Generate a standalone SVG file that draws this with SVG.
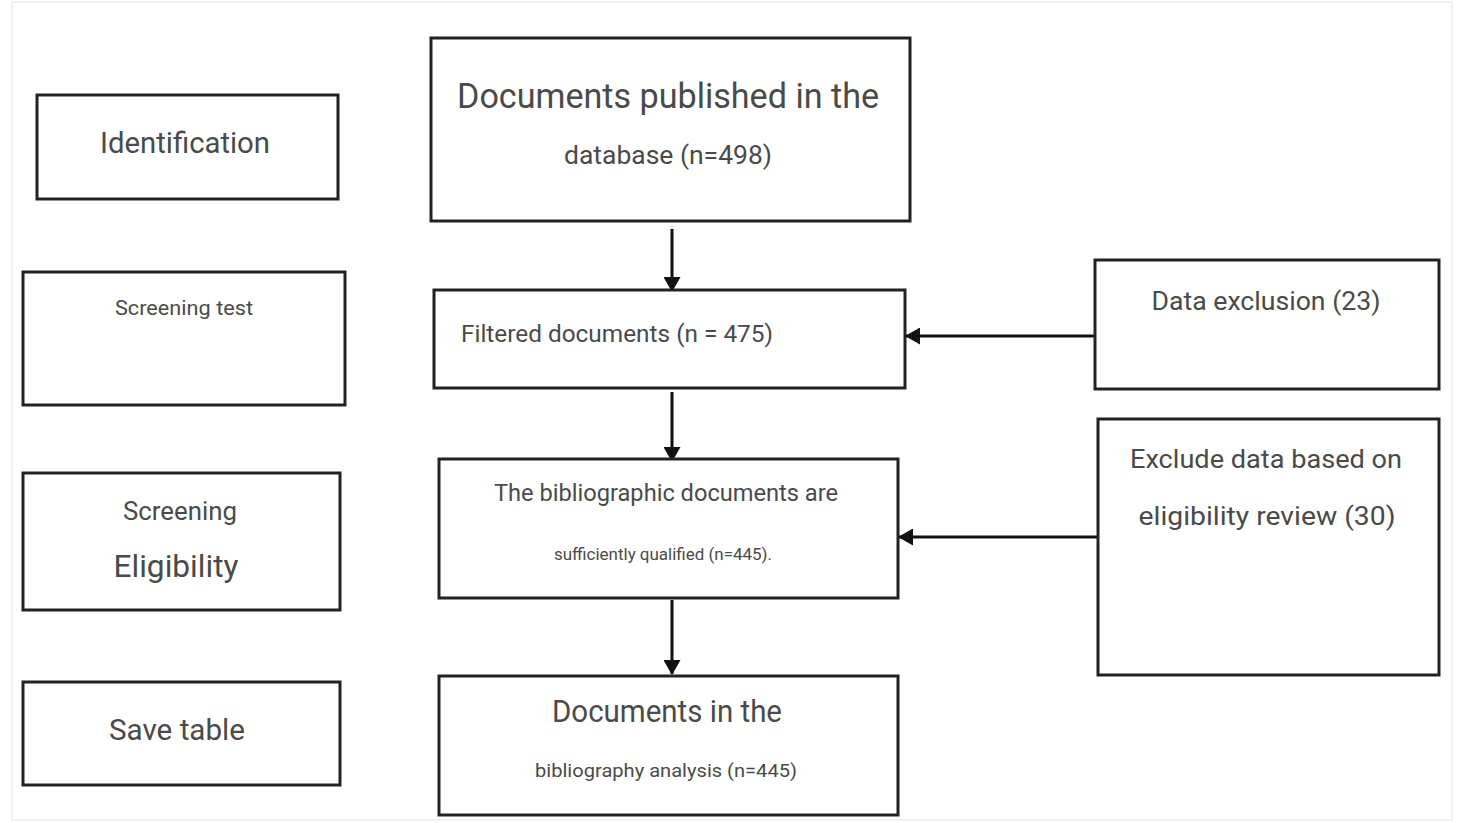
<svg xmlns="http://www.w3.org/2000/svg" width="1457" height="823" viewBox="0 0 1457 823">
<defs>
<marker id="ah" viewBox="0 0 15 17" refX="14" refY="8.5" markerWidth="15" markerHeight="17" orient="auto-start-reverse" markerUnits="userSpaceOnUse">
<path d="M0,0 L15,8.5 L0,17 z" fill="#111"/>
</marker>
<style>
.box{fill:#fff;stroke:#222;stroke-width:3}
.t{font-family:Roboto,"Liberation Sans",sans-serif;fill:#4a4a4a;text-anchor:middle}
.c{stroke:#111;stroke-width:3;fill:none}
</style>
</defs>
<rect width="1457" height="823" fill="#fff"/>
<rect x="12" y="2" width="1440" height="818" fill="none" stroke="#f1f2f4" stroke-width="2"/>
<g id="connectors">
<line class="c" x1="672" y1="229" x2="672" y2="291" marker-end="url(#ah)"/>
<line class="c" x1="672" y1="392" x2="672" y2="461" marker-end="url(#ah)"/>
<line class="c" x1="672" y1="600" x2="672" y2="674" marker-end="url(#ah)"/>
<line class="c" x1="1095" y1="336" x2="906" y2="336" marker-end="url(#ah)"/>
<line class="c" x1="1097" y1="537" x2="899" y2="537" marker-end="url(#ah)"/>
</g>
<g id="identification">
<rect class="box" x="37" y="95" width="301" height="104"/>
<text class="t" x="185" y="153" font-size="29" textLength="170" lengthAdjust="spacingAndGlyphs">Identification</text>
</g>
<g id="screening-test">
<rect class="box" x="23" y="272" width="322" height="133"/>
<text class="t" x="184" y="315" font-size="21" textLength="138" lengthAdjust="spacingAndGlyphs">Screening test</text>
</g>
<g id="screening-eligibility">
<rect class="box" x="23" y="473" width="317" height="137"/>
<text class="t" x="180" y="520" font-size="25" textLength="114" lengthAdjust="spacingAndGlyphs">Screening</text>
<text class="t" x="176" y="577" font-size="32" textLength="125" lengthAdjust="spacingAndGlyphs">Eligibility</text>
</g>
<g id="save-table">
<rect class="box" x="23" y="682" width="317" height="103"/>
<text class="t" x="177" y="740" font-size="29" textLength="136" lengthAdjust="spacingAndGlyphs">Save table</text>
</g>
<g id="docs-published">
<rect class="box" x="431" y="38" width="479" height="183"/>
<text class="t" x="668" y="108" font-size="35" textLength="422" lengthAdjust="spacingAndGlyphs">Documents published in the</text>
<text class="t" x="668" y="164" font-size="26" textLength="208" lengthAdjust="spacingAndGlyphs">database (n=498)</text>
</g>
<g id="filtered">
<rect class="box" x="434" y="290" width="471" height="98"/>
<text class="t" x="617" y="342" font-size="23" textLength="312" lengthAdjust="spacingAndGlyphs">Filtered documents (n = 475)</text>
</g>
<g id="qualified">
<rect class="box" x="439" y="459" width="459" height="139"/>
<text class="t" x="666" y="501" font-size="23" textLength="344" lengthAdjust="spacingAndGlyphs">The bibliographic documents are</text>
<text class="t" x="663" y="560" font-size="16" textLength="218" lengthAdjust="spacingAndGlyphs">sufficiently qualified (n=445).</text>
</g>
<g id="analysis">
<rect class="box" x="439" y="676" width="459" height="139"/>
<text class="t" x="667" y="722" font-size="31" textLength="230" lengthAdjust="spacingAndGlyphs">Documents in the</text>
<text class="t" x="666" y="777" font-size="19" textLength="262" lengthAdjust="spacingAndGlyphs">bibliography analysis (n=445)</text>
</g>
<g id="data-exclusion">
<rect class="box" x="1095" y="260" width="344" height="129"/>
<text class="t" x="1266" y="310" font-size="25" textLength="229" lengthAdjust="spacingAndGlyphs">Data exclusion (23)</text>
</g>
<g id="eligibility-exclusion">
<rect class="box" x="1098" y="419" width="341" height="256"/>
<text class="t" x="1266" y="468" font-size="25" textLength="272" lengthAdjust="spacingAndGlyphs">Exclude data based on</text>
<text class="t" x="1267" y="525" font-size="25" textLength="257" lengthAdjust="spacingAndGlyphs">eligibility review (30)</text>
</g>
</svg>
